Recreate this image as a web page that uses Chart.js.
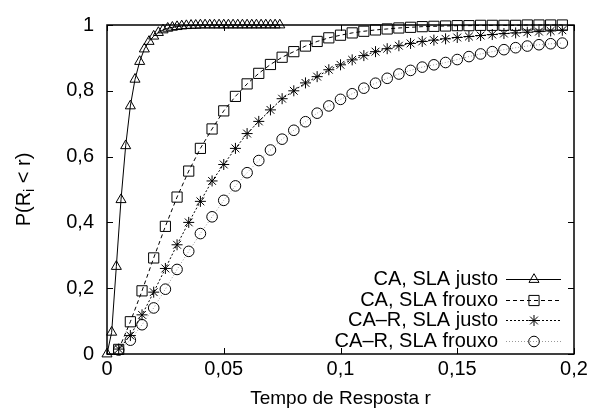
<!DOCTYPE html>
<html>
<head>
<meta charset="utf-8">
<script src="https://cdn.jsdelivr.net/npm/chart.js@4.4.1/dist/chart.umd.min.js"></script>
<style>
  html, body { margin: 0; padding: 0; background: #fff; }
</style>
</head>
<body>
<canvas id="cdf" width="592" height="419"></canvas>
<script>
// values
const justoX = [0, 0.002, 0.004, 0.006, 0.008, 0.01, 0.012, 0.014, 0.016, 0.018,
  0.02, 0.022, 0.024, 0.026, 0.028, 0.03, 0.032, 0.034, 0.036, 0.038,
  0.04, 0.042, 0.044, 0.046, 0.048, 0.05, 0.052, 0.054, 0.056, 0.058,
  0.06, 0.062, 0.064, 0.066, 0.068, 0.07, 0.072, 0.074];
const caJusto = [0, 0.066, 0.266, 0.469, 0.633, 0.754, 0.835, 0.889, 0.927, 0.95,
  0.966, 0.977, 0.985, 0.99, 0.993, 0.995, 0.997, 0.998, 0.999, 0.999,
  1, 1, 1, 1, 1, 1, 1, 1, 1, 1,
  1, 1, 1, 1, 1, 1, 1, 1];

const respX = [0.005, 0.01, 0.015, 0.02, 0.025, 0.03, 0.035, 0.04, 0.045, 0.05,
  0.055, 0.06, 0.065, 0.07, 0.075, 0.08, 0.085, 0.09, 0.095, 0.1,
  0.105, 0.11, 0.115, 0.12, 0.125, 0.13, 0.135, 0.14, 0.145, 0.15,
  0.155, 0.16, 0.165, 0.17, 0.175, 0.18, 0.185, 0.19, 0.195];
const caFrouxo = [0.014, 0.098, 0.192, 0.292, 0.388, 0.477, 0.556, 0.625, 0.684, 0.739,
  0.783, 0.821, 0.853, 0.88, 0.902, 0.919, 0.936, 0.95, 0.961, 0.969,
  0.976, 0.981, 0.985, 0.988, 0.991, 0.993, 0.995, 0.996, 0.997, 0.998,
  0.998, 0.999, 0.999, 0.999, 0.999, 1, 1, 1, 1];
const carJusto = [0.015, 0.056, 0.119, 0.188, 0.26, 0.332, 0.4, 0.464, 0.526, 0.576,
  0.625, 0.67, 0.707, 0.742, 0.776, 0.8, 0.824, 0.843, 0.864, 0.879,
  0.894, 0.907, 0.919, 0.928, 0.937, 0.944, 0.95, 0.954, 0.958, 0.962,
  0.965, 0.968, 0.971, 0.974, 0.976, 0.978, 0.98, 0.982, 0.984];
const carFrouxo = [0.012, 0.042, 0.089, 0.14, 0.197, 0.257, 0.312, 0.366, 0.417, 0.467,
  0.511, 0.551, 0.588, 0.62, 0.653, 0.68, 0.706, 0.732, 0.754, 0.774,
  0.791, 0.808, 0.823, 0.838, 0.851, 0.862, 0.872, 0.879, 0.886, 0.895,
  0.904, 0.912, 0.919, 0.925, 0.931, 0.936, 0.94, 0.943, 0.945];

const seriesLabels = ['CA, SLA justo', 'CA, SLA frouxo', 'CA\u2013R, SLA justo', 'CA\u2013R, SLA frouxo'];
const xTickVals = [0, 0.05, 0.1, 0.15, 0.2];
const xTickLabels = ['0', '0,05', '0,1', '0,15', '0,2'];
const yTickVals = [0, 0.2, 0.4, 0.6, 0.8, 1];
const yTickLabels = ['0', '0,2', '0,4', '0,6', '0,8', '1'];
const xTitle = 'Tempo de Resposta r';

const FONT = '"Liberation Sans", Arial, sans-serif';

const toPoints = (xs, ys) => xs.map((x, i) => ({x: x, y: ys[i]}));

function series(label, xs, ys, style) {
  return Object.assign({
    label: label,
    data: toPoints(xs, ys),
    borderColor: '#000',
    borderWidth: 1,
    pointBorderColor: '#000',
    pointBackgroundColor: 'rgba(0,0,0,0)',
    pointBorderWidth: 1,
    tension: 0,
    clip: false
  }, style);
}

function marker(ctx, style, radius, x, y) {
  if (Chart.helpers && Chart.helpers.drawPoint) {
    Chart.helpers.drawPoint(ctx, {pointStyle: style, radius: radius, borderWidth: 1, rotation: 0}, x, y);
    return;
  }
  ctx.beginPath();
  ctx.arc(x, y, radius, 0, Math.PI * 2);
  ctx.stroke();
}

// inner ticks on all four sides plus the frame, gnuplot style
const frame = {
  id: 'frame',
  beforeDatasetsDraw(chart) {
    const {ctx, chartArea: a, scales: {x, y}} = chart;
    ctx.save();
    ctx.strokeStyle = '#000';
    ctx.lineWidth = 1;
    ctx.beginPath();
    xTickVals.forEach(v => {
      const px = Math.round(x.getPixelForValue(v)) + 0.5;
      ctx.moveTo(px, a.bottom); ctx.lineTo(px, a.bottom - 6);
      ctx.moveTo(px, a.top); ctx.lineTo(px, a.top + 6);
    });
    yTickVals.forEach(v => {
      const py = Math.round(y.getPixelForValue(v)) + 0.5;
      ctx.moveTo(a.left, py); ctx.lineTo(a.left + 6, py);
      ctx.moveTo(a.right, py); ctx.lineTo(a.right - 6, py);
    });
    ctx.stroke();
    ctx.lineWidth = 1.5;
    ctx.strokeRect(a.left, a.top, a.right - a.left, a.bottom - a.top);
    ctx.restore();
  },
  afterDraw(chart) {
    const {ctx, chartArea: a} = chart;
    ctx.save();
    ctx.fillStyle = '#000';

    // x title
    ctx.font = '19px ' + FONT;
    ctx.textAlign = 'center';
    ctx.textBaseline = 'middle';
    ctx.fillText(xTitle, (a.left + a.right) / 2, 399);

    // y title with subscript i
    ctx.save();
    ctx.translate(24, (a.top + a.bottom) / 2);
    ctx.rotate(-Math.PI / 2);
    ctx.textAlign = 'left';
    ctx.font = '20px ' + FONT;
    const w1 = ctx.measureText('P(R').width;
    const w3 = ctx.measureText(' < r)').width;
    ctx.font = '14px ' + FONT;
    const w2 = ctx.measureText('i').width;
    const sx = -(w1 + w2 + w3) / 2;
    ctx.font = '20px ' + FONT;
    ctx.fillText('P(R', sx, 0);
    ctx.font = '14px ' + FONT;
    ctx.fillText('i', sx + w1, 6);
    ctx.font = '20px ' + FONT;
    ctx.fillText(' < r)', sx + w1 + w2, 0);
    ctx.restore();

    // key, bottom right
    chart.data.datasets.forEach((ds, i) => {
      const cy = Math.round(279 + i * 20.5) + 0.5;
      ctx.font = '20px ' + FONT;
      ctx.textAlign = 'right';
      ctx.textBaseline = 'middle';
      ctx.fillStyle = '#000';
      ctx.fillText(ds.label, 498, cy);
      ctx.strokeStyle = ds.borderColor;
      ctx.lineWidth = 1;
      ctx.setLineDash(ds.borderDash || []);
      ctx.beginPath();
      ctx.moveTo(506, cy);
      ctx.lineTo(561, cy);
      ctx.stroke();
      ctx.setLineDash([]);
      ctx.strokeStyle = '#000';
      ctx.fillStyle = 'rgba(0,0,0,0)';
      marker(ctx, ds.pointStyle, ds.pointRadius, 534, cy);
    });
    ctx.restore();
  }
};

new Chart(document.getElementById('cdf'), {
  type: 'line',
  data: {
    datasets: [
      series(seriesLabels[0], justoX, caJusto, {pointStyle: 'triangle', pointRadius: 5.8}),
      series(seriesLabels[1], respX, caFrouxo, {pointStyle: 'rect', pointRadius: 7.2, borderDash: [4, 3]}),
      series(seriesLabels[2], respX, carJusto, {pointStyle: 'star', pointRadius: 5.5, borderDash: [2, 2]}),
      series(seriesLabels[3], respX, carFrouxo, {pointStyle: 'circle', pointRadius: 5.3, borderColor: '#999', borderDash: [1, 2]})
    ]
  },
  options: {
    responsive: false,
    devicePixelRatio: 1,
    animation: false,
    layout: {padding: {top: 16, right: 18, left: 0, bottom: 0}},
    plugins: {legend: {display: false}, tooltip: {enabled: false}},
    scales: {
      x: {
        type: 'linear',
        min: 0,
        max: 0.2,
        afterFit(s) { s.height = 65; },
        afterBuildTicks(s) { s.ticks = xTickVals.map(v => ({value: v})); },
        grid: {display: false, drawTicks: false},
        border: {display: false},
        ticks: {
          autoSkip: false,
          maxRotation: 0,
          padding: 3,
          color: '#000',
          font: {family: FONT, size: 20},
          callback: (v, i) => xTickLabels[i]
        }
      },
      y: {
        type: 'linear',
        min: 0,
        max: 1,
        afterFit(s) { s.width = 107; },
        afterBuildTicks(s) { s.ticks = yTickVals.map(v => ({value: v})); },
        grid: {display: false, drawTicks: false},
        border: {display: false},
        ticks: {
          autoSkip: false,
          padding: 13,
          color: '#000',
          font: {family: FONT, size: 20},
          callback: (v, i) => yTickLabels[i]
        }
      }
    }
  },
  plugins: [frame]
});
</script>
</body>
</html>
